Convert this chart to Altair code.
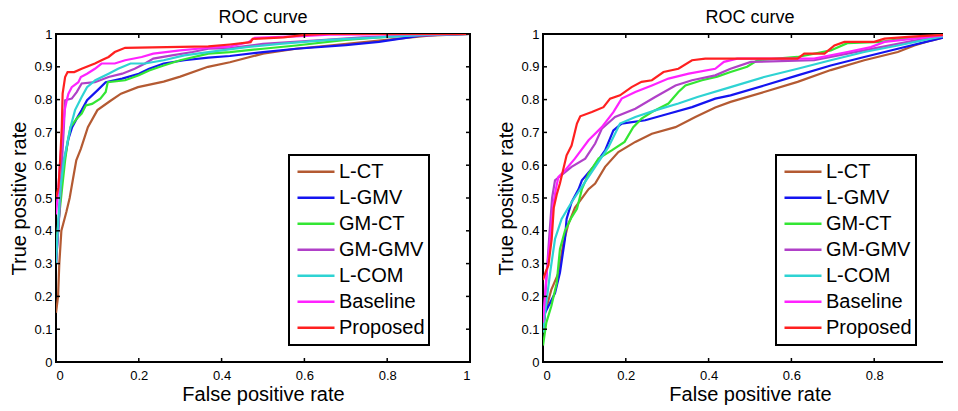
import altair as alt
import pandas as pd

methods = ["L-CT", "L-GMV", "GM-CT", "GM-GMV", "L-COM", "Baseline", "Proposed"]
colors = ["#B45A32", "#1414F0", "#33E633", "#B040C8", "#2ED3D3", "#FF22FF", "#FF2020"]
x_ticks = [0, 0.2, 0.4, 0.6, 0.8, 1]
y_ticks = [0, 0.1, 0.2, 0.3, 0.4, 0.5, 0.6, 0.7, 0.8, 0.9, 1]

# ---------------- left panel ----------------
left_lct_fpr = [0, 0.005, 0.008, 0.013, 0.025, 0.033, 0.041, 0.049, 0.06, 0.077, 0.1, 0.13, 0.157, 0.198, 0.26, 0.30, 0.367, 0.42, 0.5, 0.58, 0.66, 0.78, 0.9, 1.0]
left_lct_tpr = [0.15, 0.2, 0.3, 0.4, 0.457, 0.5, 0.558, 0.615, 0.65, 0.716, 0.768, 0.795, 0.818, 0.838, 0.855, 0.87, 0.9, 0.914, 0.94, 0.955, 0.965, 0.98, 0.995, 1.0]
left_lgmv_fpr = [0, 0.006, 0.012, 0.02, 0.03, 0.039, 0.05, 0.062, 0.075, 0.1, 0.12, 0.16, 0.2, 0.225, 0.26, 0.31, 0.368, 0.42, 0.5, 0.58, 0.7, 0.78, 0.885, 1.0]
left_lgmv_tpr = [0.3, 0.42, 0.533, 0.615, 0.68, 0.716, 0.742, 0.768, 0.798, 0.828, 0.853, 0.864, 0.879, 0.894, 0.91, 0.92, 0.928, 0.933, 0.945, 0.955, 0.966, 0.976, 0.996, 1.0]
left_gmct_fpr = [0, 0.008, 0.015, 0.022, 0.028, 0.035, 0.05, 0.062, 0.072, 0.087, 0.107, 0.12, 0.125, 0.167, 0.2, 0.225, 0.26, 0.3, 0.368, 0.42, 0.5, 0.58, 0.7, 0.86, 1.0]
left_gmct_tpr = [0.35, 0.45, 0.533, 0.615, 0.67, 0.716, 0.742, 0.757, 0.782, 0.787, 0.803, 0.823, 0.853, 0.859, 0.874, 0.889, 0.904, 0.92, 0.94, 0.945, 0.955, 0.965, 0.982, 0.997, 1.0]
left_gmgmv_fpr = [0, 0.008, 0.014, 0.019, 0.022, 0.038, 0.05, 0.062, 0.094, 0.127, 0.16, 0.19, 0.215, 0.235, 0.28, 0.33, 0.368, 0.42, 0.5, 0.66, 0.74, 0.88, 1.0]
left_gmgmv_tpr = [0.3, 0.45, 0.6, 0.716, 0.798, 0.803, 0.823, 0.849, 0.853, 0.869, 0.879, 0.894, 0.91, 0.925, 0.935, 0.945, 0.955, 0.957, 0.97, 0.983, 0.99, 0.996, 1.0]
left_lcom_fpr = [0, 0.005, 0.011, 0.019, 0.035, 0.046, 0.062, 0.075, 0.095, 0.127, 0.15, 0.18, 0.215, 0.26, 0.31, 0.368, 0.46, 0.54, 0.66, 0.78, 0.9, 1.0]
left_lcom_tpr = [0.3, 0.42, 0.533, 0.615, 0.716, 0.768, 0.808, 0.838, 0.859, 0.879, 0.894, 0.91, 0.91, 0.92, 0.935, 0.945, 0.96, 0.97, 0.982, 0.99, 0.998, 1.0]
left_base_fpr = [0, 0.006, 0.01, 0.017, 0.021, 0.027, 0.03, 0.038, 0.054, 0.06, 0.075, 0.094, 0.11, 0.142, 0.167, 0.207, 0.235, 0.3, 0.368, 0.42, 0.465, 0.48, 0.58, 0.66, 1.0]
left_base_tpr = [0.45, 0.533, 0.615, 0.716, 0.768, 0.803, 0.818, 0.838, 0.853, 0.869, 0.879, 0.894, 0.91, 0.91, 0.92, 0.93, 0.94, 0.95, 0.958, 0.962, 0.975, 0.988, 0.993, 0.998, 1.0]
left_prop_fpr = [0, 0.006, 0.01, 0.014, 0.016, 0.022, 0.028, 0.044, 0.062, 0.094, 0.11, 0.127, 0.142, 0.167, 0.368, 0.42, 0.47, 0.475, 0.55, 0.6, 0.65, 1.0]
left_prop_tpr = [0.5, 0.533, 0.615, 0.716, 0.818, 0.869, 0.884, 0.884, 0.894, 0.91, 0.92, 0.93, 0.945, 0.958, 0.962, 0.968, 0.975, 0.985, 0.99, 0.997, 1.0, 1.0]

# ---------------- right panel ----------------
right_lct_fpr = [0, 0.005, 0.02, 0.037, 0.049, 0.061, 0.077, 0.11, 0.126, 0.15, 0.182, 0.223, 0.263, 0.32, 0.368, 0.416, 0.453, 0.534, 0.615, 0.695, 0.776, 0.857, 0.897, 0.937, 1.0]
right_lct_tpr = [0.09, 0.15, 0.22, 0.27, 0.36, 0.42, 0.47, 0.527, 0.544, 0.595, 0.64, 0.671, 0.696, 0.716, 0.747, 0.776, 0.793, 0.823, 0.854, 0.89, 0.92, 0.945, 0.965, 0.98, 1.0]
right_lgmv_fpr = [0, 0.005, 0.029, 0.041, 0.053, 0.057, 0.069, 0.086, 0.094, 0.122, 0.15, 0.17, 0.19, 0.247, 0.303, 0.36, 0.416, 0.453, 0.534, 0.615, 0.695, 0.776, 0.857, 0.937, 1.0]
right_lgmv_tpr = [0.1, 0.15, 0.21, 0.273, 0.375, 0.436, 0.487, 0.527, 0.554, 0.595, 0.645, 0.706, 0.727, 0.737, 0.757, 0.777, 0.803, 0.813, 0.843, 0.874, 0.904, 0.93, 0.955, 0.98, 1.0]
right_gmct_fpr = [0, 0.008, 0.02, 0.033, 0.041, 0.053, 0.069, 0.082, 0.094, 0.11, 0.134, 0.166, 0.197, 0.218, 0.238, 0.263, 0.303, 0.327, 0.344, 0.384, 0.421, 0.453, 0.493, 0.518, 0.615, 0.695, 0.735, 0.816, 0.872, 1.0]
right_gmct_tpr = [0.05, 0.12, 0.17, 0.24, 0.345, 0.4, 0.441, 0.467, 0.527, 0.574, 0.62, 0.645, 0.671, 0.716, 0.742, 0.762, 0.788, 0.823, 0.843, 0.859, 0.87, 0.884, 0.9, 0.92, 0.93, 0.95, 0.972, 0.976, 0.986, 1.0]
right_gmgmv_fpr = [0, 0.008, 0.015, 0.022, 0.029, 0.069, 0.102, 0.126, 0.142, 0.174, 0.223, 0.271, 0.32, 0.36, 0.416, 0.453, 0.502, 0.655, 0.735, 0.816, 0.897, 1.0]
right_gmgmv_tpr = [0.1, 0.25, 0.38, 0.5, 0.554, 0.595, 0.62, 0.666, 0.711, 0.747, 0.772, 0.808, 0.843, 0.859, 0.874, 0.894, 0.915, 0.92, 0.94, 0.96, 0.98, 1.0]
right_lcom_fpr = [0, 0.005, 0.017, 0.029, 0.045, 0.069, 0.09, 0.126, 0.158, 0.186, 0.223, 0.271, 0.327, 0.373, 0.453, 0.534, 0.615, 0.695, 0.776, 0.857, 0.937, 1.0]
right_lcom_tpr = [0.09, 0.15, 0.27, 0.375, 0.436, 0.487, 0.527, 0.595, 0.655, 0.727, 0.747, 0.767, 0.788, 0.808, 0.838, 0.869, 0.894, 0.92, 0.945, 0.965, 0.986, 1.0]
right_base_fpr = [0, 0.009, 0.017, 0.025, 0.029, 0.037, 0.053, 0.077, 0.11, 0.142, 0.17, 0.19, 0.223, 0.263, 0.303, 0.352, 0.416, 0.437, 0.469, 0.655, 0.735, 0.792, 0.825, 0.897, 1.0]
right_base_tpr = [0.12, 0.273, 0.375, 0.48, 0.513, 0.564, 0.584, 0.62, 0.676, 0.716, 0.762, 0.803, 0.823, 0.843, 0.864, 0.879, 0.894, 0.915, 0.925, 0.925, 0.945, 0.96, 0.976, 0.986, 1.0]
right_prop_fpr = [0, 0.008, 0.013, 0.021, 0.026, 0.033, 0.041, 0.057, 0.069, 0.082, 0.09, 0.118, 0.146, 0.162, 0.186, 0.214, 0.238, 0.263, 0.291, 0.327, 0.36, 0.392, 0.615, 0.631, 0.68, 0.704, 0.728, 0.8, 0.825, 0.89, 1.0]
right_prop_tpr = [0.25, 0.28, 0.294, 0.375, 0.47, 0.51, 0.545, 0.63, 0.66, 0.727, 0.749, 0.762, 0.777, 0.803, 0.813, 0.838, 0.854, 0.859, 0.884, 0.894, 0.92, 0.925, 0.925, 0.94, 0.94, 0.965, 0.976, 0.976, 0.986, 0.992, 1.0]

left_series = [(left_lct_fpr, left_lct_tpr), (left_lgmv_fpr, left_lgmv_tpr), (left_gmct_fpr, left_gmct_tpr),
               (left_gmgmv_fpr, left_gmgmv_tpr), (left_lcom_fpr, left_lcom_tpr), (left_base_fpr, left_base_tpr),
               (left_prop_fpr, left_prop_tpr)]
right_series = [(right_lct_fpr, right_lct_tpr), (right_lgmv_fpr, right_lgmv_tpr), (right_gmct_fpr, right_gmct_tpr),
                (right_gmgmv_fpr, right_gmgmv_tpr), (right_lcom_fpr, right_lcom_tpr), (right_base_fpr, right_base_tpr),
                (right_prop_fpr, right_prop_tpr)]

FONT = "Liberation Sans"
W, H = 414, 328
TICK = 4


def build_df(series):
    rows = []
    for m, (fx, fy) in zip(methods, series):
        for i, (a, b) in enumerate(zip(fx, fy)):
            rows.append({"method": m, "fpr": a, "tpr": b, "idx": i})
    return pd.DataFrame(rows)


def panel(series):
    df = build_df(series)
    xs = alt.Scale(domain=[0, 1], nice=False, zero=False)
    ys = alt.Scale(domain=[0, 1], nice=False, zero=False)
    x_axis = alt.Axis(values=x_ticks, format="~g", labelPadding=7, labelOverlap=False,
                      title="False positive rate")
    y_axis = alt.Axis(values=y_ticks, format="~g", labelPadding=4, titlePadding=4,
                      labelOverlap=False, title="True positive rate")
    legend = alt.Legend(
        orient="none", legendX=233, legendY=121, title=None,
        symbolType="stroke", symbolSize=1369, symbolStrokeWidth=2.5,
        labelFont=FONT, labelFontSize=20, labelColor="black", labelOffset=3,
        strokeColor="black", fillColor="white", padding=4, clipHeight=25.6,
        symbolOffset=3, rowPadding=0,
    )
    lines = alt.Chart(df).mark_line(strokeWidth=2.2, clip=True).encode(
        x=alt.X("fpr:Q", scale=xs, axis=x_axis),
        y=alt.Y("tpr:Q", scale=ys, axis=y_axis),
        color=alt.Color("method:N", scale=alt.Scale(domain=methods, range=colors), legend=legend),
        order="idx:Q",
    )
    xt = pd.DataFrame({"v": x_ticks})
    yt = pd.DataFrame({"v": y_ticks})
    top_t = alt.Chart(xt).mark_rule(color="black", strokeWidth=1.5).encode(
        x=alt.X("v:Q", scale=xs, axis=x_axis), y=alt.value(0), y2=alt.value(TICK))
    bot_t = alt.Chart(xt).mark_rule(color="black", strokeWidth=1.5).encode(
        x=alt.X("v:Q", scale=xs, axis=x_axis), y=alt.value(H), y2=alt.value(H - TICK))
    left_t = alt.Chart(yt).mark_rule(color="black", strokeWidth=1.5).encode(
        y=alt.Y("v:Q", scale=ys, axis=y_axis), x=alt.value(0), x2=alt.value(TICK))
    right_t = alt.Chart(yt).mark_rule(color="black", strokeWidth=1.5).encode(
        y=alt.Y("v:Q", scale=ys, axis=y_axis), x=alt.value(W), x2=alt.value(W - TICK))
    return alt.layer(lines, top_t, bot_t, left_t, right_t).properties(
        width=W, height=H,
        title=alt.TitleParams("ROC curve", font=FONT, fontSize=18, fontWeight="normal",
                              color="black", offset=1),
    )


chart = alt.hconcat(panel(left_series), panel(right_series), spacing=23).resolve_legend(
    color="independent"
).properties(
    padding={"left": 0, "top": 0, "right": -16, "bottom": 0}, background="white"
).configure_view(
    stroke="black", strokeWidth=2
).configure_axis(
    labelFont=FONT, labelFontSize=13, labelColor="black",
    titleFont=FONT, titleFontSize=20, titleFontWeight="normal", titleColor="black",
    ticks=False, domain=False, grid=False, titlePadding=2,
).configure_legend(
    strokeWidth=2
)

chart.save("out.html", embed_options={"renderer": "svg", "actions": False})
